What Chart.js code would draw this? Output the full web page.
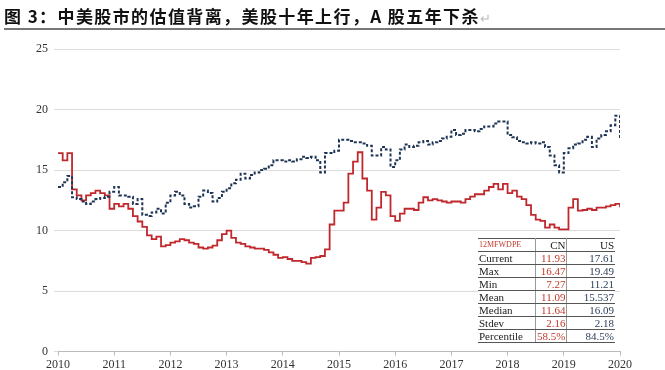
<!DOCTYPE html>
<html>
<head>
<meta charset="utf-8">
<script src="https://cdn.jsdelivr.net/npm/chart.js@4/dist/chart.umd.min.js"></script>
<style>
  body { margin: 0; background: #fff; }
  #wrap { position: relative; width: 665px; height: 370px; overflow: hidden; }
  #title {
    position: absolute; left: 4px; top: 4px; width: 661px; height: 24px;
    font: bold 17px "Noto Sans CJK SC", sans-serif; color: #111; letter-spacing: 1.4px;
    white-space: nowrap; line-height: 24px;
    border-bottom: 2px solid #777;
  }
  #title .mark { color: #bbb; font-weight: normal; font-size: 13px; }
  canvas { position: absolute; left: 0; top: 0; }
  #stats {
    position: absolute; left: 478px; top: 238px; width: 137px;
    border-collapse: collapse; background: #fff;
    font: 11px "Liberation Serif", "Times New Roman", serif; color: #222;
  }
  #stats td { padding: 0 1px; height: 12px; line-height: 12px; border-bottom: 1px solid #555; }
  #stats td.lab { width: 55px; text-align: left; border-right: 1px solid #999; }
  #stats td.cn { width: 24px; text-align: right; color: #c0392b; border-right: 1px solid #999; }
  #stats td.us { text-align: right; color: #2c3e5a; }
  #stats tr.head td { font-size: 8px; color: #c0392b; border-top: 1px solid #555; }
  #stats tr.head td.cn, #stats tr.head td.us { font-size: 11px; color: #222; }
</style>
</head>
<body>
<div id="wrap">
  <canvas id="chart" width="665" height="376"></canvas>
  <div id="title">图 3：中美股市的估值背离，美股十年上行，A 股五年下杀<span class="mark">↵</span></div>
  <table id="stats"></table>
</div>
<script>
// 12M forward PE, monthly readings from Jan 2010 to Jan 2020
const startYear = 2010;
const cnPE = [
  16.4, 15.8, 16.4, 13.4, 12.9, 12.5, 12.9, 13.1, 13.3, 13.1, 12.9, 11.8,
  12.2, 12.0, 12.2, 11.8, 11.2, 10.75, 10.3, 9.6, 9.3, 9.5, 8.7, 8.8,
  9.0, 9.1, 9.3, 9.2, 9.0, 8.9, 8.6, 8.5, 8.6, 8.75, 9.2, 9.7,
  10.0, 9.4, 9.0, 8.9, 8.7, 8.6, 8.5, 8.5, 8.4, 8.2, 8.0, 7.75,
  7.8, 7.65, 7.5, 7.5, 7.4, 7.27, 7.75, 7.8, 7.9, 8.45, 10.5, 11.65,
  11.65, 12.3, 14.7, 15.7, 16.47, 14.3, 13.3, 10.9, 11.9, 13.2, 12.9, 11.2,
  10.8, 11.4, 11.8, 11.8, 11.7, 12.3, 12.75, 12.5, 12.6, 12.5, 12.4, 12.3,
  12.4, 12.4, 12.3, 12.6, 12.8, 13.0, 13.0, 13.3, 13.6, 13.85, 13.4, 13.85,
  13.1, 13.3, 12.8, 12.6, 12.1, 11.3, 10.9, 10.8, 10.25, 10.5, 10.25, 10.1,
  10.1, 11.9, 12.6, 11.65, 11.7, 11.8, 11.7, 11.9, 11.9, 12.0, 12.1, 12.2,
  11.93
];
const usPE = [
  13.6, 14.0, 14.5, 12.75, 12.6, 12.4, 12.2, 12.4, 12.6, 12.7, 12.8, 13.2,
  13.6, 12.9, 12.9, 12.8, 12.2, 12.6, 11.3, 11.21, 11.5, 11.8, 11.4, 12.3,
  12.9, 13.2, 12.9, 12.2, 11.9, 12.0, 12.8, 13.3, 13.1, 12.4, 12.7, 13.2,
  13.5, 13.9, 14.2, 14.7, 14.3, 14.6, 14.8, 15.0, 15.1, 15.4, 15.8, 15.8,
  15.7, 15.8, 15.7, 15.9, 16.1, 16.0, 16.1, 15.8, 14.8, 16.4, 16.4, 16.6,
  17.5, 17.5, 17.4, 17.3, 17.3, 17.2, 17.0, 16.2, 16.2, 16.9, 16.7, 15.25,
  15.8, 16.7, 17.1, 16.9, 17.0, 17.3, 17.4, 17.1, 17.3, 17.4, 17.6, 17.75,
  18.3, 17.9, 18.0, 18.3, 18.3, 18.2, 18.4, 18.6, 18.6, 18.85, 19.0, 19.0,
  17.9, 17.7, 17.4, 17.3, 17.2, 17.3, 17.2, 17.3, 16.9, 16.2, 15.4, 14.8,
  16.4, 16.8, 17.1, 17.2, 17.5, 17.75, 16.9, 17.6, 17.9, 18.2, 18.7, 19.49,
  17.61
];
const yearTicks = [2010, 2011, 2012, 2013, 2014, 2015, 2016, 2017, 2018, 2019, 2020];

// summary table
const statHeader = ["12MFWDPE", "CN", "US"];
const statNames = ["Current", "Max", "Min", "Mean", "Median", "Stdev", "Percentile"];
const cnStats = ["11.93", "16.47", "7.27", "11.09", "11.64", "2.16", "58.5%"];
const usStats = ["17.61", "19.49", "11.21", "15.537", "16.09", "2.18", "84.5%"];

const table = document.getElementById("stats");
let html = '<tr class="head"><td class="lab">' + statHeader[0] + '</td><td class="cn">' +
  statHeader[1] + '</td><td class="us">' + statHeader[2] + '</td></tr>';
statNames.forEach((name, i) => {
  html += '<tr><td class="lab">' + name + '</td><td class="cn">' + cnStats[i] +
    '</td><td class="us">' + usStats[i] + '</td></tr>';
});
table.innerHTML = html;

const toPoints = (arr) => arr.map((v, i) => ({ x: startYear + i / 12, y: v }));

const tickFont = { family: "'Liberation Serif', 'Times New Roman', serif", size: 12 };

new Chart(document.getElementById("chart"), {
  type: "line",
  data: {
    datasets: [
      {
        label: "US",
        data: toPoints(usPE),
        borderColor: "#1f3556",
        borderWidth: 2,
        borderDash: [3, 2],
        pointRadius: 0,
        stepped: true,
        fill: false,
      },
      {
        label: "CN",
        data: toPoints(cnPE),
        borderColor: "#c0282d",
        borderWidth: 1.8,
        pointRadius: 0,
        stepped: true,
        fill: false,
      },
    ],
  },
  options: {
    responsive: false,
    animation: false,
    layout: { padding: { top: 49, right: 45, bottom: 2, left: 0 } },
    plugins: { legend: { display: false }, tooltip: { enabled: false } },
    scales: {
      x: {
        type: "linear",
        min: yearTicks[0],
        max: yearTicks[yearTicks.length - 1],
        afterBuildTicks: (axis) => {
          axis.ticks = yearTicks.map((v) => ({ value: v }));
        },
        ticks: {
          callback: (v) => String(v),
          color: "#333",
          font: tickFont,
          padding: 2,
          maxRotation: 0,
        },
        grid: { drawOnChartArea: false, color: "#bbb", tickLength: 4 },
        border: { color: "#bbb" },
      },
      y: {
        min: 0,
        max: 25,
        ticks: { stepSize: 5, color: "#333", font: tickFont, padding: 6 },
        grid: { color: "#dcdcdc", tickLength: 4 },
        border: { display: false },
        afterFit: (axis) => { axis.width = 58; },
      },
    },
  },
});
</script>
</body>
</html>
